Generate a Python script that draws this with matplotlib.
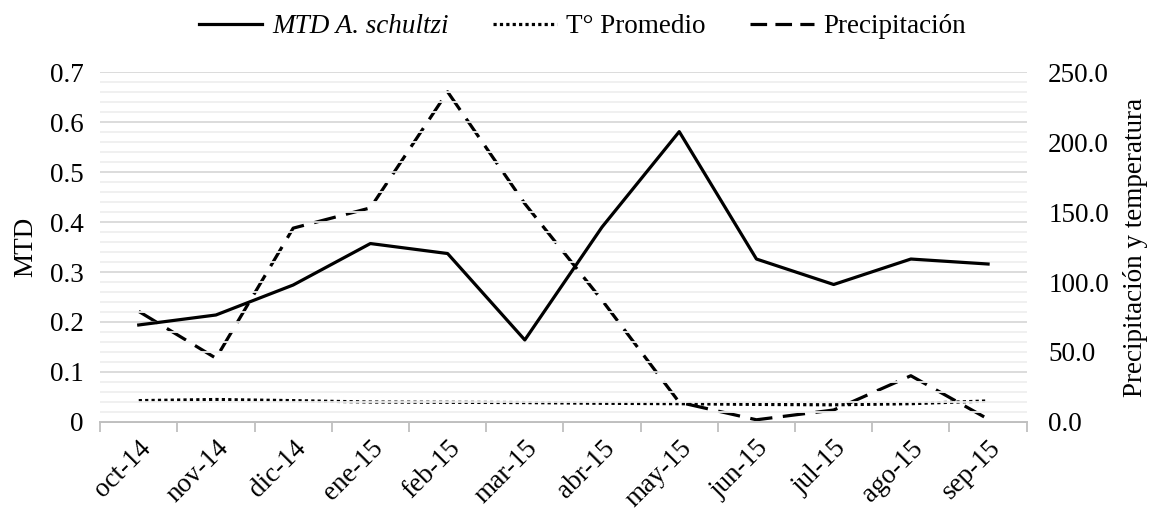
import matplotlib.pyplot as plt
import numpy as np
from matplotlib.lines import Line2D
from matplotlib.ticker import MultipleLocator, FixedLocator, FuncFormatter

plt.rcParams['font.family'] = ['Liberation Serif', 'DejaVu Serif']

# -------------------------------------------------------------------------------------------------
# Data
# -------------------------------------------------------------------------------------------------
months = ["oct-14", "nov-14", "dic-14", "ene-15", "feb-15", "mar-15",
          "abr-15", "may-15", "jun-15", "jul-15", "ago-15", "sep-15"]
mtd = [0.194, 0.214, 0.274, 0.357, 0.337, 0.164, 0.390, 0.581, 0.326, 0.275, 0.326, 0.316]
temp = [15.2, 16.0, 15.2, 14.2, 14.0, 13.8, 13.3, 13.0, 12.5, 12.2, 13.0, 15.0]
precip = [79.0, 45.5, 138.5, 153.0, 236.0, 156.0, 87.0, 14.0, 1.5, 8.5, 33.0, 2.0]

x = np.arange(len(months))
fs = 19.5

# -------------------------------------------------------------------------------------------------
# Plot
# -------------------------------------------------------------------------------------------------
fig, ax = plt.subplots(figsize=(11.51, 5.12), dpi=100)
fig.subplots_adjust(left=0.087, right=0.892, top=0.859, bottom=0.176)
ax2 = ax.twinx()

ax.set_ylim(0, 0.7)
ax.set_yticks(np.arange(0, 0.71, 0.1))
ax.yaxis.set_minor_locator(MultipleLocator(0.02))
ax.yaxis.set_major_formatter(FuncFormatter(lambda v, p: "0" if abs(v) < 1e-9 else "{:.1f}".format(v)))
ax.grid(True, which='major', axis='y', color='#d9d9d9', lw=1.3)
ax.grid(True, which='minor', axis='y', color='#efefef', lw=1.3)
ax.set_axisbelow(True)

ax.set_xlim(-0.5, len(months) - 0.5)
ax.set_xticks(x)
ax.set_xticklabels(months, rotation=45, ha='right', rotation_mode='anchor')
ax.xaxis.set_minor_locator(FixedLocator(np.arange(-0.5, len(months), 1.0)))
ax.tick_params(axis='x', which='major', length=0, labelsize=fs, pad=10)
ax.tick_params(axis='x', which='minor', length=7, color='#bfbfbf', width=1.3)
ax.tick_params(axis='y', which='both', length=0, labelsize=fs, pad=12)

for a in (ax, ax2):
    for s in ('top', 'left', 'right'):
        a.spines[s].set_visible(False)
    a.spines['bottom'].set_color('#bfbfbf')
    a.spines['bottom'].set_linewidth(1.3)

ax2.set_ylim(0, 250)
ax2.set_yticks(np.arange(0, 251, 50))
ax2.yaxis.set_major_formatter(FuncFormatter(lambda v, p: "{:.1f}".format(v)))
ax2.tick_params(axis='y', length=0, labelsize=fs, pad=15.5)

ax.plot(x, mtd, color='black', lw=2.3)
ax2.plot(x, temp, color='black', lw=2.3, linestyle=(0, (1, 1)))
ax2.plot(x, precip, color='black', lw=2.3, linestyle=(0, (7, 3.3)))
ax.set_zorder(ax2.get_zorder() + 1)
ax.patch.set_visible(False)

ax.set_ylabel("MTD", fontsize=fs, labelpad=8)
ax2.set_ylabel("Precipitación y temperatura", fontsize=fs, labelpad=10)

# legend proxies (Excel draws shorter dashes in the legend keys)
h1 = Line2D([], [], color='black', lw=2.3)
h2 = Line2D([], [], color='black', lw=2.3, linestyle=(0, (1, 1)))
h3 = Line2D([], [], color='black', lw=2.3, linestyle=(0, (5.2, 2.6)))
leg = fig.legend(handles=[h1, h2, h3], labels=['MTD A. schultzi', 'T° Promedio', 'Precipitación'],
                 loc='upper center', bbox_to_anchor=(0.506, 1.02), ncol=3, frameon=False,
                 fontsize=fs, handlelength=2.35, columnspacing=1.65, handletextpad=0.35)
leg.get_texts()[0].set_fontstyle('italic')

fig.savefig("out.png", dpi=100)
